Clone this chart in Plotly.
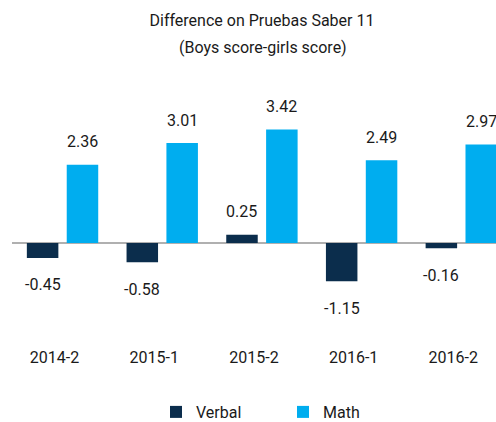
import plotly.graph_objects as go

categories = ["2014-2", "2015-1", "2015-2", "2016-1", "2016-2"]
verbal = [-0.45, -0.58, 0.25, -1.15, -0.16]
math = [2.36, 3.01, 3.42, 2.49, 2.97]
title_text = "Difference on Pruebas Saber 11"
subtitle_text = "(Boys score-girls score)"

VERBAL_COLOR = "#0b2d4c"
MATH_COLOR = "#00adef"
FONT = "Roboto, Arial, sans-serif"
TEXT_COLOR = "#1a1a1a"

fig = go.Figure()
fig.add_trace(go.Bar(name="Verbal", x=categories, y=verbal, marker_color=VERBAL_COLOR,
                     marker_line_width=0))
fig.add_trace(go.Bar(name="Math", x=categories, y=math, marker_color=MATH_COLOR,
                     marker_line_width=0))

annotations = []
for series, shift in ((verbal, -20), (math, 20)):
    for c, v in zip(categories, series):
        annotations.append(dict(
            x=c, y=v, xref="x", yref="y", text=f"{v:.2f}", showarrow=False,
            xshift=shift, yshift=23 if v >= 0 else -27, yanchor="middle",
            font=dict(family=FONT, size=16, color=TEXT_COLOR)))
annotations.append(dict(
    x=0.5186, y=1.104, xref="paper", yref="paper", text=subtitle_text,
    showarrow=False, xanchor="center", yanchor="middle",
    font=dict(family=FONT, size=16, color=TEXT_COLOR)))

fig.update_layout(
    width=496, height=422,
    margin=dict(l=12, r=0, t=75, b=78),
    paper_bgcolor="white", plot_bgcolor="white",
    barmode="group", bargap=0.2, bargroupgap=0.21,
    font=dict(family=FONT, size=16, color=TEXT_COLOR),
    title=dict(text=title_text,
               x=262 / 496, xanchor="center", xref="container",
               y=1 - 20 / 422, yanchor="middle", yref="container",
               font=dict(family=FONT, size=16, color=TEXT_COLOR)),
    xaxis=dict(type="category", categoryorder="array", categoryarray=categories,
               range=[-0.507, 4.348], showgrid=False, showline=False, ticks="",
               ticklabelshift=-8, ticklabelstandoff=2, automargin=False,
               tickfont=dict(family=FONT, size=16, color=TEXT_COLOR)),
    yaxis=dict(range=[-3.04, 5.06], showgrid=False, showticklabels=False, ticks="",
               zeroline=True, zerolinecolor="#b0b0b0", zerolinewidth=2, showline=False,
               automargin=False),
    legend=dict(orientation="h", xref="container", yref="container",
                x=156 / 496, xanchor="left", y=10 / 422, yanchor="middle",
                entrywidth=82, entrywidthmode="pixels",
                font=dict(family=FONT, size=16, color=TEXT_COLOR)),
    annotations=annotations,
    showlegend=True,
)

fig.write_html("out.html",
               config={"displayModeBar": False},
               post_script="document.body.style.margin='0px';"
                           "document.body.style.overflow='hidden';")
